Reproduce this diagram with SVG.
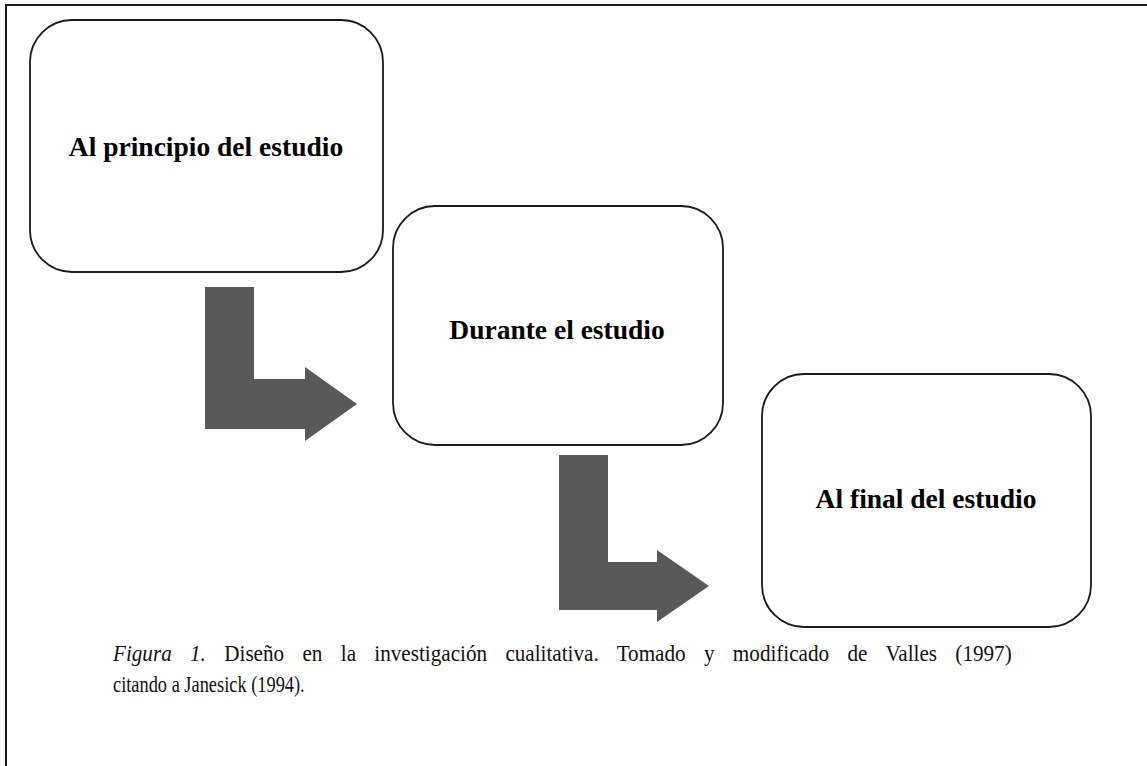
<svg xmlns="http://www.w3.org/2000/svg" width="1147" height="766" viewBox="0 0 1147 766">
<style>
.box{fill:#fff;stroke:#1a1a1a;stroke-width:1.8}
.lbl{font-family:"Liberation Serif","Times New Roman",serif;font-weight:bold;font-size:27.5px;fill:#000;text-anchor:middle}
.arrow{fill:#595959}
.cap{font-family:"Liberation Serif","Times New Roman",serif;font-size:23.5px;fill:#111}
</style>
<rect x="0" y="0" width="1147" height="766" fill="#fff"/>
<rect x="6" y="5" width="1180" height="800" fill="none" stroke="#1a1a1a" stroke-width="2"/>
<g id="node-inicio">
<rect class="box" x="30" y="20" width="353" height="252" rx="42" ry="42"/>
<text class="lbl" x="206" y="156">Al principio del estudio</text>
</g>
<g id="node-durante">
<rect class="box" x="393" y="206" width="330" height="239" rx="42" ry="42"/>
<text class="lbl" x="557" y="339">Durante el estudio</text>
</g>
<g id="node-final">
<rect class="box" x="762" y="374" width="329" height="253" rx="42" ry="42"/>
<text class="lbl" x="926" y="508">Al final del estudio</text>
</g>
<g id="connectors">
<polygon class="arrow" points="205,287 254,287 254,379 305,379 305,367 357,404 305,441 305,429 205,429"/>
<polygon class="arrow" points="559,455 608,455 608,562 657,562 657,550 709,586 657,622 657,610 559,610"/>
</g>
<g id="caption" transform="translate(113,0) scale(0.9,1)">
<text class="cap" x="0" y="661" word-spacing="14.5"><tspan font-style="italic">Figura 1.</tspan>  Diseño en la investigación  cualitativa. Tomado y  modificado de Valles (1997)</text>
<text class="cap" x="0" y="692" textLength="213" lengthAdjust="spacingAndGlyphs">citando a Janesick (1994).</text>
</g>
</svg>
